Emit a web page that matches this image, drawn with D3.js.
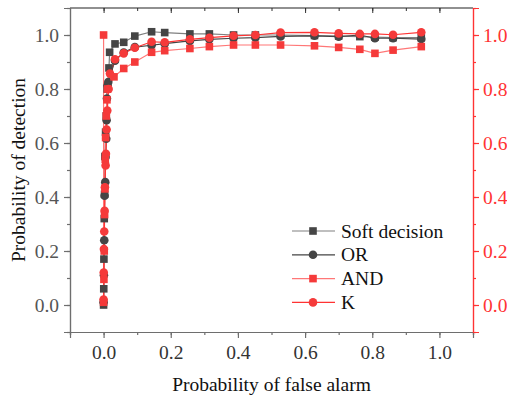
<!DOCTYPE html>
<html><head><meta charset="utf-8">
<script src="https://cdn.jsdelivr.net/npm/d3@7"></script>
<style>body{margin:0;background:#fff;} text{font-family:"Liberation Serif","Times New Roman",serif;}</style>
</head><body><svg id="c" width="507" height="398"></svg>
<script>
const xTicks = [0.0, 0.2, 0.4, 0.6, 0.8, 1.0];
const yTicks = [0.0, 0.2, 0.4, 0.6, 0.8, 1.0];
const seriesNames = ["Soft decision", "OR", "AND", "K"];

const softX = [0, 0.0005, 0.001, 0.002, 0.003, 0.004, 0.006, 0.008, 0.011, 0.016, 0.018, 0.034, 0.06, 0.093, 0.143, 0.182, 0.257, 0.315, 0.387, 0.452, 0.527, 0.628, 0.70, 0.763, 0.808, 0.862, 0.946];
const softY = [0.0, 0.06, 0.17, 0.32, 0.41, 0.55, 0.64, 0.70, 0.80, 0.878, 0.936, 0.967, 0.973, 0.996, 1.012, 1.009, 1.004, 1.004, 1.0, 1.0, 1.0, 0.998, 0.996, 0.994, 0.992, 0.99, 0.99];

const orX = [0, 0.001, 0.002, 0.003, 0.005, 0.006, 0.008, 0.009, 0.01, 0.012, 0.014, 0.034, 0.06, 0.093, 0.143, 0.182, 0.257, 0.315, 0.387, 0.452, 0.527, 0.628, 0.70, 0.763, 0.808, 0.862, 0.946];
const orY = [0.01, 0.11, 0.24, 0.405, 0.455, 0.548, 0.616, 0.684, 0.765, 0.814, 0.826, 0.905, 0.935, 0.955, 0.962, 0.968, 0.978, 0.984, 0.988, 0.99, 0.995, 0.997, 0.994, 1.0, 0.988, 0.988, 0.985];

const andX = [0, 0, 0.001, 0.002, 0.003, 0.004, 0.005, 0.006, 0.008, 0.01, 0.012, 0.031, 0.06, 0.093, 0.143, 0.182, 0.257, 0.315, 0.387, 0.452, 0.527, 0.628, 0.70, 0.763, 0.808, 0.862, 0.946];
const andY = [1.0, 0.01, 0.095, 0.2, 0.335, 0.43, 0.54, 0.62, 0.70, 0.76, 0.80, 0.845, 0.876, 0.90, 0.936, 0.942, 0.95, 0.957, 0.963, 0.963, 0.963, 0.96, 0.954, 0.947, 0.932, 0.944, 0.957];

const kX = [0, 0.0005, 0.001, 0.002, 0.003, 0.004, 0.006, 0.007, 0.009, 0.011, 0.015, 0.019, 0.034, 0.06, 0.093, 0.143, 0.182, 0.257, 0.315, 0.387, 0.452, 0.527, 0.628, 0.70, 0.763, 0.808, 0.862, 0.946];
const kY = [0.02, 0.12, 0.207, 0.272, 0.349, 0.436, 0.517, 0.56, 0.65, 0.72, 0.80, 0.857, 0.91, 0.932, 0.953, 0.975, 0.973, 0.984, 0.99, 0.997, 1.0, 1.009, 1.01, 1.006, 1.004, 1.004, 1.001, 1.01];

const svg = d3.select("#c");
const L = 70, R = 473, T = 8, B = 332;
const x = d3.scaleLinear().domain([-0.1, 1.1]).range([L, R]);
const y = d3.scaleLinear().domain([-0.1, 1.1]).range([B, T]);
const FS = 19.5;

const gray = "#6e6e6e", red = "#ff3333";
const minor = d3.range(-0.1, 1.11, 0.1).map(v => Math.round(v * 10) / 10);

// bottom axis
const gb = svg.append("g").attr("transform", `translate(0,${B})`);
gb.call(d3.axisBottom(x).tickValues(minor).tickSize(3).tickFormat(""));
gb.append("g").call(d3.axisBottom(x).tickValues(xTicks).tickSize(6).tickPadding(7).tickFormat(d3.format(".1f")));
gb.selectAll("path,line").attr("stroke", gray).attr("stroke-width", 1.2);
gb.selectAll("text").attr("fill", "#333").attr("font-size", FS).attr("font-family", "Liberation Serif");

// top axis
const gt = svg.append("g").attr("transform", `translate(0,${T})`);
gt.call(d3.axisBottom(x).tickValues(minor).tickSize(3).tickFormat(""));
gt.append("g").call(d3.axisBottom(x).tickValues(xTicks).tickSize(5).tickFormat(""));
gt.selectAll("path").remove();
gt.selectAll("line").attr("stroke", "#333");
svg.append("line").attr("x1", L).attr("x2", R).attr("y1", T).attr("y2", T).attr("stroke", "#222").attr("stroke-width", 1.2);

// left axis
const gl = svg.append("g").attr("transform", `translate(${L},0)`);
gl.call(d3.axisLeft(y).tickValues(minor).tickSize(3).tickFormat(""));
gl.append("g").call(d3.axisLeft(y).tickValues(yTicks).tickSize(6).tickPadding(5).tickFormat(d3.format(".1f")));
gl.selectAll("path,line").attr("stroke", gray).attr("stroke-width", 1.2);
gl.selectAll("text").attr("fill", "#555").attr("font-size", FS).attr("font-family", "Liberation Serif");

// right axis
const gr = svg.append("g").attr("transform", `translate(${R},0)`);
gr.call(d3.axisRight(y).tickValues(minor).tickSize(3).tickFormat(""));
gr.append("g").call(d3.axisRight(y).tickValues(yTicks).tickSize(6).tickPadding(4).tickFormat(d3.format(".1f")));
gr.selectAll("path,line").attr("stroke", red).attr("stroke-width", 1.2);
gr.selectAll("text").attr("fill", red).attr("font-size", FS).attr("font-family", "Liberation Serif");

// axis titles
svg.append("text").attr("x", (L + R) / 2).attr("y", 391).attr("text-anchor", "middle")
  .attr("font-size", FS).attr("fill", "#111").text("Probability of false alarm");
svg.append("text").attr("transform", `translate(25,${(T + B) / 2}) rotate(-90)`).attr("text-anchor", "middle")
  .attr("font-size", FS).attr("fill", "#111").text("Probability of detection");

const series = [
  {name: seriesNames[0], xs: softX, ys: softY, line: "#808080", mark: "#454545", shape: "sq"},
  {name: seriesNames[1], xs: orX, ys: orY, line: "#444", mark: "#454545", shape: "ci"},
  {name: seriesNames[2], xs: andX, ys: andY, line: "#ff7777", mark: "#f53a3a", shape: "sq"},
  {name: seriesNames[3], xs: kX, ys: kY, line: "#ff3333", mark: "#f53a3a", shape: "ci"}
];

const lineGen = d3.line().x(d => x(d[0])).y(d => y(d[1]));
function marker(g, shape, color, cx, cy) {
  if (shape === "sq") g.append("rect").attr("x", cx - 3.8).attr("y", cy - 3.8).attr("width", 7.6).attr("height", 7.6).attr("fill", color);
  else g.append("circle").attr("cx", cx).attr("cy", cy).attr("r", 4.3).attr("fill", color);
}
const plot = svg.append("g");
series.forEach(s => {
  const pts = s.xs.map((v, i) => [v, s.ys[i]]);
  plot.append("path").attr("d", lineGen(pts)).attr("fill", "none").attr("stroke", s.line).attr("stroke-width", 1.2);
});
series.forEach(s => {
  const g = plot.append("g");
  s.xs.forEach((v, i) => marker(g, s.shape, s.mark, x(v), y(s.ys[i])));
});

// legend
const lg = svg.append("g");
series.forEach((s, i) => {
  const ly = 231 + i * 23.8;
  lg.append("line").attr("x1", 292).attr("x2", 335).attr("y1", ly).attr("y2", ly).attr("stroke", s.line).attr("stroke-width", 1.2);
  marker(lg, s.shape, s.mark, 313, ly);
  lg.append("text").attr("x", 341).attr("y", ly + 6.5).attr("font-size", FS).attr("fill", "#111").text(s.name);
});
</script></body></html>
